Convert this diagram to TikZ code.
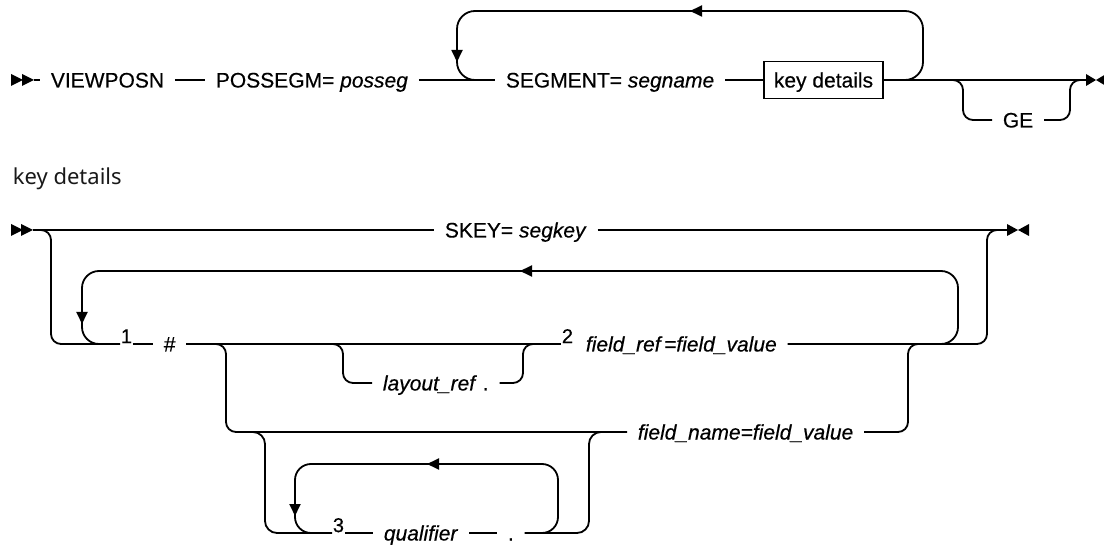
\documentclass[tikz,border=0pt]{standalone}
\usepackage{fontspec}
\setmainfont{Liberation Sans}
\newfontfamily\railfont{Liberation Sans}[FakeBold=0.4]
\newfontfamily\headfont{Noto Sans}
\usetikzlibrary{arrows.meta}
\begin{document}
\begin{tikzpicture}[x=1pt,y=-1pt,line width=1.8pt,
  lbl/.style={font=\railfont\fontsize{21}{25}\selectfont, inner xsep=10pt, inner ysep=0pt, text height=15pt, text depth=0pt, anchor=west},
  num/.style={font=\railfont\fontsize{20}{24}\selectfont, inner sep=0pt, text height=14pt, text depth=0pt, anchor=south west},
  tip/.style={-{Triangle[length=12pt,width=11pt]}}]
\clip (0,0) rectangle (1104,545);
% ---------------- top diagram ----------------
\coordinate (s1) at (11,80);
\coordinate (s1e) at (34,80);
\fill (s1) ++(0,-6) -- ++(12,6) -- ++(-12,6) -- cycle;
\fill (s1) ++(11,-6) -- ++(12,6) -- ++(-12,6) -- cycle;
\node[lbl] (viewposn) at (40,80) {VIEWPOSN};
\node[lbl] (possegm) at (205,80) {POSSEGM= \textit{posseg}};
\node[lbl] (segment) at (495,80) {SEGMENT= \textit{segname}};
\node[lbl, draw, minimum height=37pt] (kd) at (763,80) {key details};
\node[lbl] (ge) at (992,120) {GE};
\coordinate (e1) at (1086,80);
\draw (s1e) -- (viewposn.west);
\draw (viewposn.east) -- (possegm.west);
\draw (possegm.east) -- (segment.west);
\draw (segment.east) -- (kd.west);
\draw (kd.east) -- (e1);
\fill (e1) ++(0,-6) -- ++(10,6) -- ++(-10,6) -- cycle;
\fill (e1) ++(20,-6) -- ++(-10,6) -- ++(10,6) -- cycle;
% repeat loop
\coordinate (lpA) at (477,80);
\coordinate (lpB) at (900,80);
\draw[rounded corners=18pt] (lpB) -- (923,80) -- (923,11) -- (457,11) -- (457,80) -- (lpA);
\draw[tip] (712,11) -- (690,11);
\draw[tip] (457,38) -- (457,62);
% optional GE
\coordinate (g1) at (948,80);
\coordinate (g2) at (1082,80);
\draw[rounded corners=10pt] (g1) -- (963,80) -- (963,120) -- (ge.west);
\draw[rounded corners=10pt] (ge.east) -- (1070,120) -- (1070,80) -- (g2);
% ---------------- key details ----------------
\node[font=\headfont\fontsize{22}{26}\selectfont, anchor=base west, inner sep=0pt, text=black!90] (head) at (12,185) {key details};
\coordinate (s2) at (11,230);
\coordinate (s2e) at (33,230);
\fill (s2) ++(0,-6) -- ++(12,6) -- ++(-12,6) -- cycle;
\fill (s2) ++(10,-6) -- ++(12,6) -- ++(-12,6) -- cycle;
\node[lbl] (skey) at (434,230) {SKEY= \textit{segkey}};
\coordinate (e2) at (1007,230);
\draw (s2e) -- (skey.west);
\draw (skey.east) -- (e2);
\fill (e2) ++(0,-6) -- ++(11,6) -- ++(-11,6) -- cycle;
\fill (e2) ++(22,-6) -- ++(-11,6) -- ++(11,6) -- cycle;
% nodes of row A
\node[num] (d1) at (120,344) {1};
\node[lbl] (hash) at (153,344) {\#};
\node[num] (d2) at (561,344) {2};
\node[lbl] (fieldref) at (575,344) {\textit{field\_ref\,=field\_value}};
\node[lbl] (layout) at (372,383) {\textit{layout\_ref} .};
\node[lbl] (fieldname) at (627,432) {\textit{field\_name=field\_value}};
\node[num] (d3) at (332,533) {3};
\node[lbl] (qual) at (373,533) {\textit{qualifier}};
\node[lbl] (dot) at (497,533) {.};
% outer choice
\coordinate (o1) at (40,230);
\coordinate (o2) at (997,230);
\draw[rounded corners=10pt] (o1) -- (51,230) -- (51,344) -- (d1.south west);
\draw (d1.south east) -- (hash.west);
\draw (hash.east) -- (d2.south west);
\draw[rounded corners=10pt] (fieldref.east) -- (987,344) -- (987,230) -- (o2);
% big repeat loop
\coordinate (r1) at (938,344);
\coordinate (r2) at (102,344);
\draw[rounded corners=17pt] (r1) -- (958,344) -- (958,271) -- (82,271) -- (82,344) -- (r2);
\draw[tip] (542,271) -- (520,271);
\draw[tip] (82,300) -- (82,324);
% optional layout_ref
\coordinate (l1) at (330,344);
\coordinate (l2) at (535,344);
\draw[rounded corners=10pt] (l1) -- (343,344) -- (343,383) -- (layout.west);
\draw[rounded corners=10pt] (layout.east) -- (523,383) -- (523,344) -- (l2);
% field_name choice
\coordinate (b1) at (214,344);
\coordinate (b2) at (920,344);
\draw[rounded corners=10pt] (b1) -- (226,344) -- (226,432) -- (fieldname.west);
\draw[rounded corners=10pt] (fieldname.east) -- (908,432) -- (908,344) -- (b2);
% qualifier block
\coordinate (q1) at (252,432);
\coordinate (q2) at (602,432);
\draw[rounded corners=12pt] (q1) -- (265,432) -- (265,533) -- (d3.south west);
\draw (d3.south east) -- (qual.west);
\draw (qual.east) -- (dot.west);
\draw[rounded corners=12pt] (dot.east) -- (589,533) -- (589,432) -- (q2);
\coordinate (i1) at (536,533);
\coordinate (i2) at (318,533);
\draw[rounded corners=16pt] (i1) -- (558,533) -- (558,464) -- (295,464) -- (295,533) -- (i2);
\draw[tip] (449,464) -- (427,464);
\draw[tip] (295,492) -- (295,516);
\end{tikzpicture}
\end{document}
